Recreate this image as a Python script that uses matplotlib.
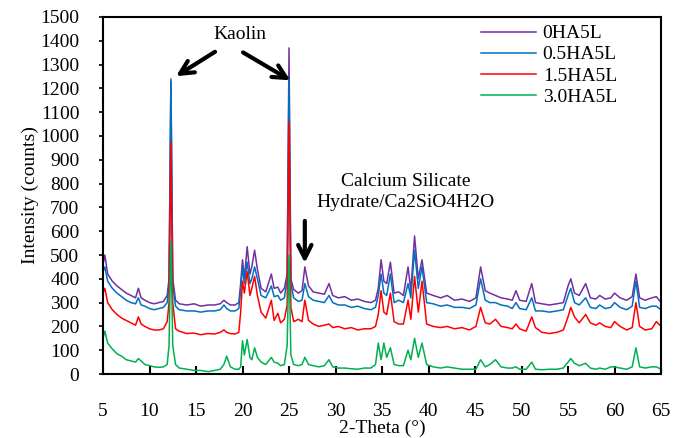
import numpy as np
import matplotlib.pyplot as plt

plt.rcParams['font.family'] = ['Liberation Serif', 'DejaVu Serif']

# 2-theta grid (deg)
two_theta = [5.0, 5.2, 5.5, 6.0, 6.5, 7.0, 7.5, 8.0, 8.5, 8.8,
             9.1, 9.5, 10.0, 10.5, 11.0, 11.5, 11.9, 12.1, 12.3, 12.5,
             12.8, 13.2, 14.0, 14.8, 15.5, 16.3, 17.0, 17.6, 18.0, 18.3,
             18.7, 19.2, 19.6, 19.8, 20.0, 20.2, 20.5, 20.8, 21.0, 21.3,
             21.6, 22.0, 22.5, 23.1, 23.4, 23.8, 24.1, 24.5, 24.8, 25.0,
             25.2, 25.5, 26.0, 26.4, 26.7, 27.1, 27.6, 28.2, 28.8, 29.3,
             29.7, 30.3, 31.0, 31.7, 32.4, 33.1, 33.8, 34.3, 34.6, 34.9,
             35.2, 35.5, 35.9, 36.3, 36.8, 37.3, 37.8, 38.1, 38.5, 38.9,
             39.3, 39.8, 40.5, 41.3, 42.0, 42.8, 43.6, 44.4, 45.1, 45.6,
             46.1, 46.6, 47.2, 47.8, 48.5, 49.0, 49.4, 49.8, 50.5, 51.1,
             51.5, 52.2, 53.0, 53.8, 54.5, 55.0, 55.3, 55.7, 56.2, 56.9,
             57.4, 58.0, 58.4, 59.0, 59.6, 60.0, 60.6, 61.3, 61.9, 62.3,
             62.7, 63.3, 64.0, 64.5, 65.0]

ha0 = [460, 500, 420, 390, 370, 355, 340, 330, 320, 360,
       320, 310, 300, 295, 300, 305, 330, 400, 1230, 400,
       310, 295, 290, 295, 285, 290, 290, 295, 310, 300,
       290, 290, 300, 380, 480, 400, 535, 420, 450, 520,
       440, 360, 345, 420, 360, 365, 340, 360, 420, 1370,
       400, 355, 340, 350, 450, 370, 345, 340, 335, 380,
       330, 320, 325, 310, 315, 305, 300, 310, 360, 480,
       390, 380, 470, 340, 345, 330, 450, 350, 580, 400,
       480, 340, 330, 320, 330, 310, 315, 305, 320, 450,
       350, 340, 330, 320, 315, 310, 350, 310, 305, 380,
       300, 295, 290, 295, 300, 370, 400, 340, 330, 380,
       320, 315, 330, 315, 320, 340, 320, 310, 325, 420,
       320, 310, 320, 325, 300]

ha05 = [430, 450, 390, 360, 340, 325, 310, 300, 295, 320,
        290, 285, 275, 270, 275, 280, 300, 380, 1240, 380,
        285, 270, 265, 265, 260, 265, 265, 270, 290, 275,
        265, 265, 275, 350, 450, 380, 470, 380, 400, 450,
        400, 330, 320, 370, 325, 330, 310, 320, 400, 1240,
        380, 320, 305, 310, 380, 325, 310, 305, 300, 330,
        300, 290, 290, 280, 285, 275, 270, 280, 330, 420,
        340, 330, 420, 300, 310, 300, 380, 320, 520, 360,
        450, 300, 295, 285, 290, 280, 280, 275, 290, 400,
        310, 300, 300, 290, 285, 275, 300, 275, 270, 320,
        265, 265, 260, 265, 270, 330, 360, 300, 290, 320,
        280, 275, 290, 275, 280, 300, 280, 270, 285, 390,
        280, 275, 285, 285, 270]

ha15 = [340, 360, 300, 270, 250, 235, 225, 215, 205, 240,
        210, 200, 190, 185, 185, 190, 220, 300, 975, 300,
        190, 180, 170, 172, 165, 170, 168, 175, 185, 175,
        170, 168, 175, 260, 390, 340, 430, 330, 360, 410,
        330, 260, 235, 310, 225, 255, 215, 230, 290, 1060,
        280, 220, 230, 220, 310, 225, 210, 200, 205, 210,
        195, 200, 190, 195, 185, 190, 190, 200, 250, 350,
        260, 250, 340, 220, 210, 210, 310, 230, 410, 260,
        390, 210, 200, 195, 200, 190, 195, 185, 200, 280,
        215, 210, 230, 200, 195, 190, 210, 190, 180, 240,
        195, 175, 170, 175, 185, 240, 280, 240, 215, 250,
        215, 205, 215, 200, 195, 220, 200, 185, 195, 300,
        200, 185, 190, 220, 200]

ha30 = [150, 180, 130, 105, 85, 75, 60, 55, 50, 65,
        55, 40, 35, 30, 28, 30, 40, 120, 555, 120,
        40, 25, 20, 15, 15, 10, 15, 20, 40, 75,
        30, 20, 20, 30, 140, 80, 145, 70, 60, 110,
        70, 50, 40, 70, 50, 45, 35, 40, 120, 500,
        80, 40, 35, 40, 70, 40, 35, 30, 35, 60,
        30, 25, 25, 22, 20, 25, 25, 40, 130, 60,
        130, 70, 110, 40, 35, 35, 100, 60, 150, 70,
        130, 40, 30, 25, 30, 25, 20, 20, 20, 60,
        30, 40, 60, 30, 25, 25, 30, 20, 20, 50,
        20, 18, 20, 20, 25, 50, 65, 45, 35, 45,
        25, 20, 25, 20, 30, 30, 25, 20, 30, 110,
        30, 25, 30, 30, 20]

series = [ha0, ha05, ha15, ha30]
labels = ['0HA5L', '0.5HA5L', '1.5HA5L', '3.0HA5L']
colors = ['#7030A0', '#0070C0', '#FF0000', '#00B050']

fig = plt.figure(figsize=(6.84, 4.38), dpi=100)
ax = fig.add_axes([0.1506, 0.1461, 0.8158, 0.8151])

for y, lab, c in zip(series, labels, colors):
    ax.plot(two_theta, y, color=c, lw=1.1, label=lab)

ax.set_xlim(5, 65)
ax.set_ylim(0, 1500)
ax.set_xticks(np.arange(5, 66, 5))
ax.set_yticks(np.arange(0, 1501, 100))
ax.tick_params(axis='x', direction='in', length=6, width=1.5, pad=21, labelsize=14)
ax.tick_params(axis='y', direction='out', length=3, width=1.2, pad=14, labelsize=14)
for s in ax.spines.values():
    s.set_linewidth(1.5)

ax.set_xlabel('2-Theta (°)', fontsize=14, labelpad=0)
ax.set_ylabel('Intensity (counts)', fontsize=14, labelpad=1)

leg = ax.legend(loc='upper right', frameon=False, fontsize=14, handlelength=2.8,
                labelspacing=0.18, handletextpad=0.35, borderaxespad=0.0,
                bbox_to_anchor=(0.935, 1.0))

# annotations
ax.text(19.7, 1425, 'Kaolin', ha='center', va='center', fontsize=14)
arrow = dict(arrowstyle='->', lw=3, color='black', mutation_scale=24)
ax.annotate('', xy=(12.6, 1245), xytext=(17.3, 1360), arrowprops=arrow)
ax.annotate('', xy=(25.4, 1228), xytext=(19.8, 1357), arrowprops=arrow)

ax.text(37.5, 765, 'Calcium Silicate\nHydrate/Ca2SiO4H2O', ha='center',
        va='center', fontsize=14, linespacing=1.25)
ax.annotate('', xy=(26.7, 455), xytext=(26.7, 655), arrowprops=arrow)

fig.savefig('out.png', dpi=100)
